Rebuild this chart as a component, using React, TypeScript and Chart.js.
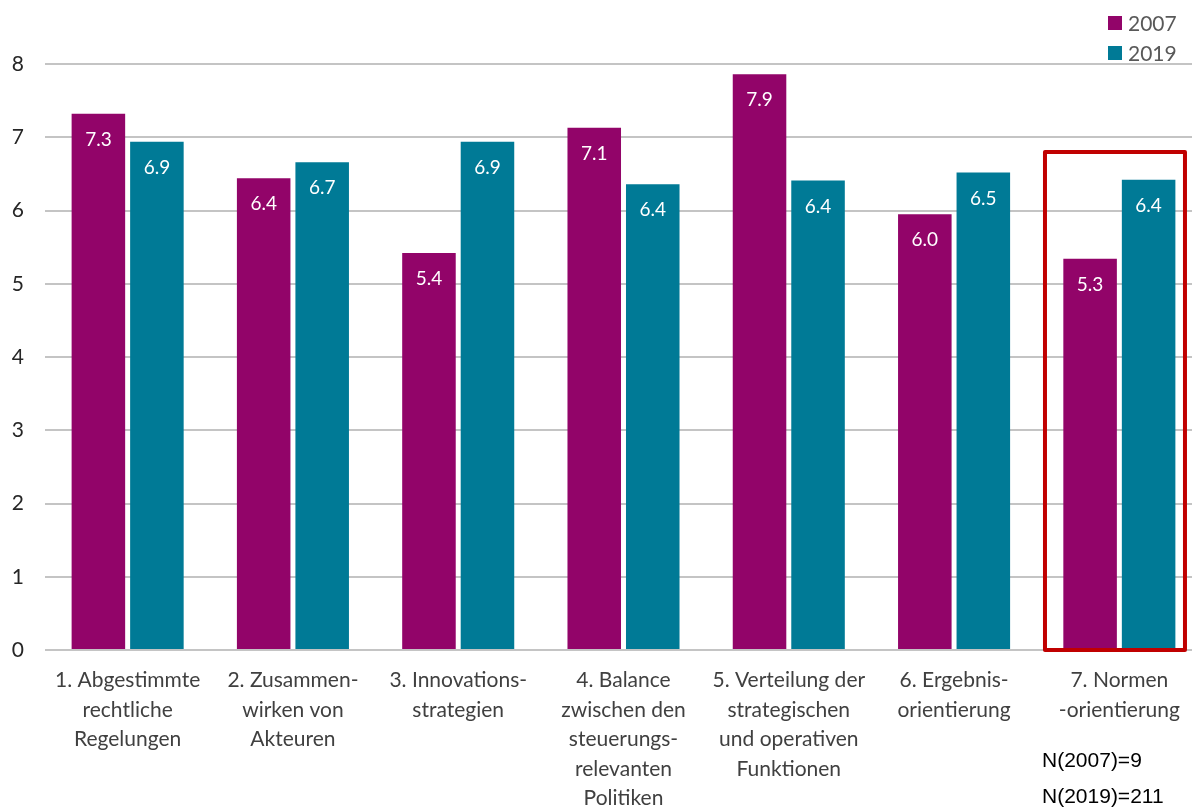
import React, { useEffect, useRef } from "react";
import { Chart, registerables } from "chart.js";

Chart.register(...registerables);

const categories: string[][] = [
  ["1. Abgestimmte", "rechtliche", "Regelungen"],
  ["2. Zusammen-", "wirken von", "Akteuren"],
  ["3. Innovations-", "strategien"],
  ["4. Balance", "zwischen den", "steuerungs-", "relevanten", "Politiken"],
  ["5. Verteilung der", "strategischen", "und operativen", "Funktionen"],
  ["6. Ergebnis-", "orientierung"],
  ["7. Normen", "-orientierung"],
];

const values2007: number[] = [7.32, 6.44, 5.42, 7.13, 7.86, 5.95, 5.34];
const values2019: number[] = [6.94, 6.66, 6.94, 6.36, 6.41, 6.52, 6.42];

const seriesLabels = ["2007", "2019"];
const seriesColors = ["#920469", "#007A96"];

const notes = ["N(2007)=9", "N(2019)=211"];

const highlightIndex = 6;
const highlightTop = 6.8;

const FONT = "Lato, 'Noto Sans', sans-serif";

const dataLabelPlugin = {
  id: "dataLabels",
  afterDatasetsDraw(chart: any) {
    const ctx = chart.ctx;
    ctx.save();
    ctx.fillStyle = "#ffffff";
    ctx.font = `19px ${FONT}`;
    ctx.textAlign = "center";
    ctx.textBaseline = "middle";
    chart.data.datasets.forEach((ds: any, i: number) => {
      const meta = chart.getDatasetMeta(i);
      meta.data.forEach((bar: any, j: number) => {
        const v = ds.data[j] as number;
        ctx.fillText(v.toFixed(1), bar.x, bar.y + 26);
      });
    });
    ctx.restore();
  },
};

const highlightPlugin = {
  id: "highlight",
  afterDatasetsDraw(chart: any) {
    const ctx = chart.ctx;
    const xs = chart.scales.x;
    const ys = chart.scales.y;
    const cw = xs.getPixelForValue(1) - xs.getPixelForValue(0);
    const cx = xs.getPixelForValue(highlightIndex);
    const left = cx - 0.45 * cw;
    const right = cx + 0.397 * cw;
    const top = ys.getPixelForValue(highlightTop);
    const bottom = ys.getPixelForValue(0);
    ctx.save();
    ctx.strokeStyle = "#C00000";
    ctx.lineWidth = 4;
    ctx.lineJoin = "round";
    ctx.strokeRect(left, top, right - left, bottom - top);
    ctx.restore();
  },
};

const legendPlugin = {
  id: "customLegend",
  afterDraw(chart: any) {
    const ctx = chart.ctx;
    ctx.save();
    ctx.font = `21px ${FONT}`;
    ctx.textBaseline = "middle";
    ctx.textAlign = "left";
    chart.data.datasets.forEach((ds: any, i: number) => {
      const cy = 23 + i * 30;
      ctx.fillStyle = ds.backgroundColor;
      ctx.fillRect(1108, cy - 7, 14, 14);
      ctx.fillStyle = "#595959";
      ctx.fillText(ds.label, 1128, cy + 1);
    });
    ctx.restore();
  },
};

export default function App() {
  const canvasRef = useRef<HTMLCanvasElement | null>(null);

  useEffect(() => {
    if (!canvasRef.current) return;
    const chart = new Chart(canvasRef.current, {
      type: "bar",
      data: {
        labels: categories,
        datasets: [
          {
            label: seriesLabels[0],
            data: values2007,
            backgroundColor: seriesColors[0],
            categoryPercentage: 0.708,
            barPercentage: 0.915,
          },
          {
            label: seriesLabels[1],
            data: values2019,
            backgroundColor: seriesColors[1],
            categoryPercentage: 0.708,
            barPercentage: 0.915,
          },
        ],
      },
      options: {
        animation: false,
        responsive: true,
        maintainAspectRatio: false,
        layout: { padding: { top: 64, right: 0, left: 0, bottom: 0 } },
        plugins: {
          legend: { display: false },
          tooltip: { enabled: false },
        },
        scales: {
          x: {
            grid: { display: false, drawTicks: false },
            border: { display: false },
            ticks: {
              color: "#404040",
              font: { family: FONT, size: 21, lineHeight: 1.4 },
              padding: 16,
              maxRotation: 0,
              autoSkip: false,
            },
            afterFit(scale: any) {
              scale.height = 157;
            },
          },
          y: {
            min: 0,
            max: 8,
            ticks: {
              stepSize: 1,
              color: "#262626",
              font: { family: FONT, size: 21 },
              padding: 21,
            },
            grid: { color: "#C4C4C4", lineWidth: 2, drawTicks: false },
            border: { display: false },
            afterFit(scale: any) {
              scale.width = 45;
            },
          },
        },
      },
      plugins: [dataLabelPlugin, highlightPlugin, legendPlugin],
    });
    return () => chart.destroy();
  }, []);

  return (
    <div
      style={{
        position: "absolute",
        left: 0,
        top: 0,
        width: 1192,
        height: 807,
        overflow: "hidden",
        background: "#ffffff",
      }}
    >
      <div style={{ position: "absolute", left: 0, top: 0, width: 1202, height: 807 }}>
        <canvas ref={canvasRef} />
      </div>
      {notes.map((n, i) => (
        <div
          key={n}
          style={{
            position: "absolute",
            left: 1042,
            top: 746 + i * 36,
            fontFamily: "'Liberation Sans', Arial, sans-serif",
            fontSize: 21,
            lineHeight: "28px",
            color: "#000000",
            whiteSpace: "nowrap",
          }}
        >
          {n}
        </div>
      ))}
    </div>
  );
}
